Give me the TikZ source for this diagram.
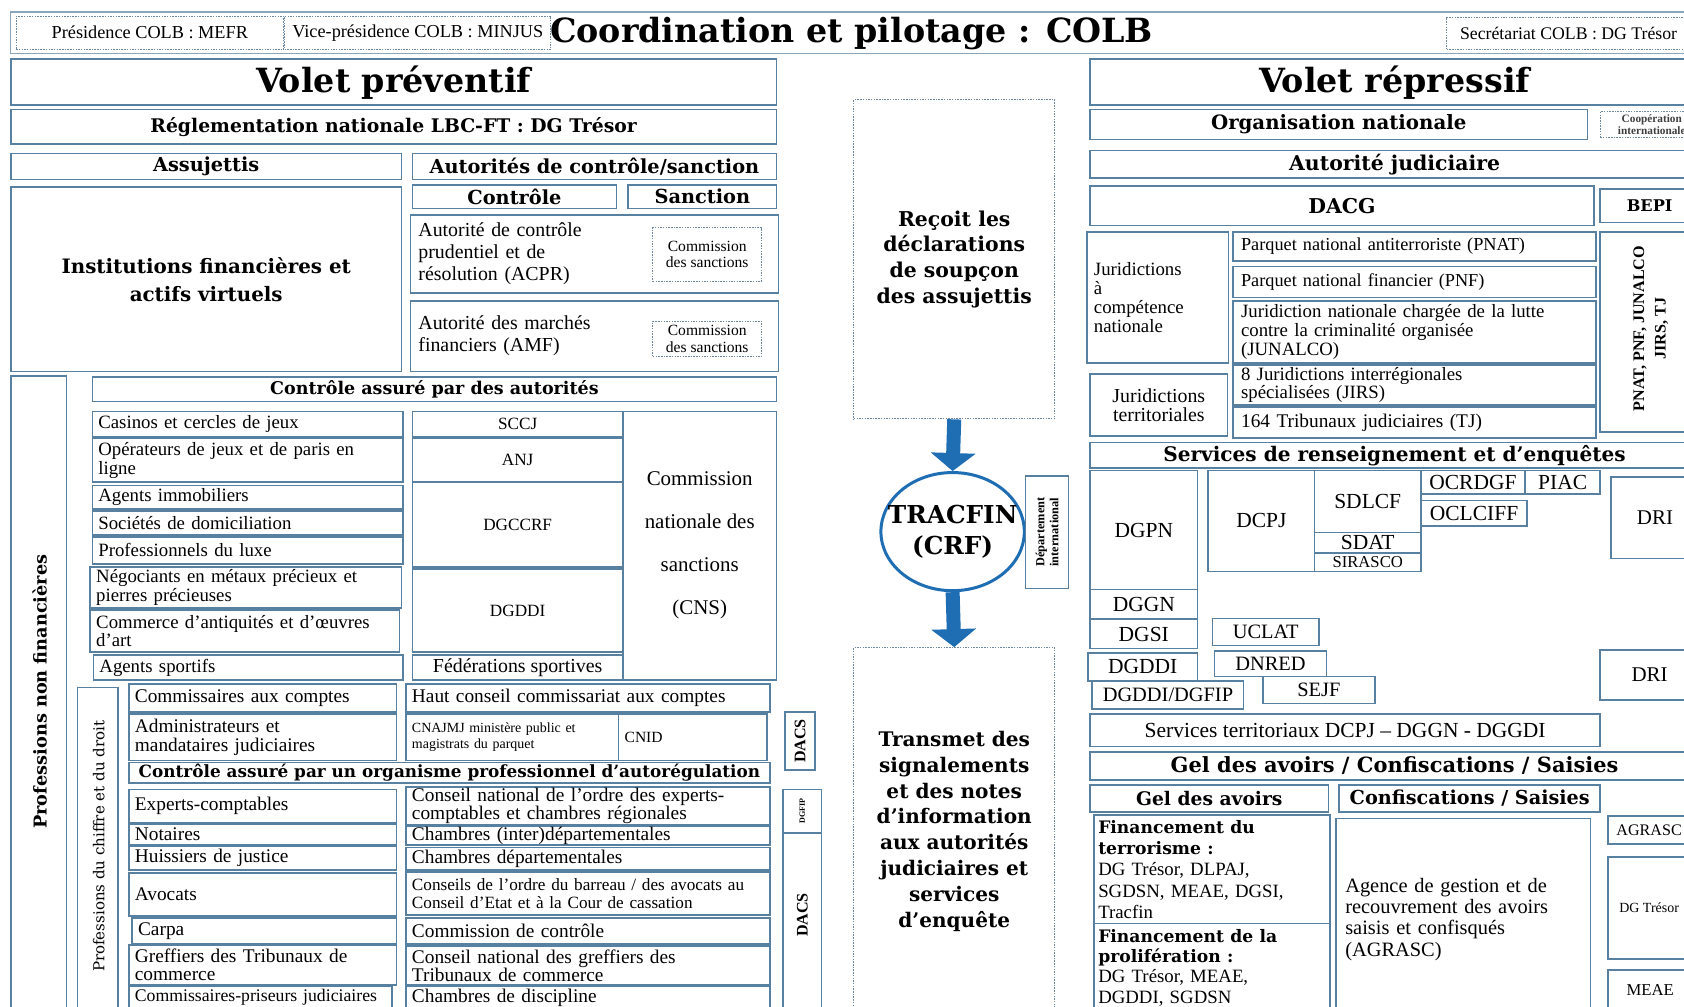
\documentclass[tikz,border=0pt]{standalone}
\usepackage{fontspec}
\setmainfont{Liberation Serif}
\newfontfamily\slab{DejaVu Serif}
\usetikzlibrary{arrows.meta,shapes.geometric}
\definecolor{bc}{RGB}{88,128,160}
\definecolor{dc}{RGB}{110,135,160}
\definecolor{tb}{RGB}{31,110,180}
\newcommand\fs[2]{\fontsize{\dimexpr#1pt*1074/1000\relax}{\dimexpr#2pt*1074/1000\relax}\selectfont}
\newcommand\bx[7][]{\node[box,minimum width={(#5-#3)*1.074pt},minimum height={(#6-#4)*1.074pt},#1] (#2) at ({(#3+#5)/2},{(#4+#6)/2}) {#7};}
\newcommand\lbx[7][]{\node[box,align=left,inner xsep=6pt,text width={(#5-#3)*1.074pt-12pt},minimum height={(#6-#4)*1.074pt},#1] (#2) at ({(#3+#5)/2},{(#4+#6)/2}) {#7};}
\begin{document}
\begin{tikzpicture}[x=1.074pt,y=-1.074pt,
  box/.style={draw=bc,line width=1.6pt,inner sep=0pt,align=center},
  dbox/.style={draw=dc,line width=1pt,dash pattern=on 1.5pt off 1.2pt},
  rt/.style={rotate=90,align=center},
  hd/.style={font=\slab\bfseries\fs{#1}{#1}},
  rg/.style={font=\fs{#1}{#1}},
  flow/.style={tb,line width=14pt,-{Triangle[width=44pt,length=18pt]}}]
\useasboundingbox (0,0) rectangle (1568,937);
\fill[white] (0,0) rectangle (1568,937);
\clip (0,0) rectangle (1568,937);
% ---------- top band
\draw[draw=bc!70,line width=1.4pt] (10,11) rectangle (1590,50);
\bx[dbox,rg=17]{pres}{15}{15}{264}{46}{Présidence COLB : MEFR}
\bx[dbox,rg=17]{vpres}{265}{15}{513}{46}{Vice-présidence COLB : MINJUS}
\node[hd=31] (title) at (793,31) {Coordination et pilotage : COLB};
\bx[dbox,rg=16.5]{secr}{1347}{16}{1574}{46}{Secrétariat COLB : DG Trésor}
% ---------- volet preventif
\bx[hd=31]{vp}{10}{55}{723}{98}{Volet préventif}
\bx[hd=17.5]{regl}{10}{102}{723}{134}{Réglementation nationale LBC-FT : DG Trésor}
\bx[hd=18]{assuj}{10}{143}{374}{167}{Assujettis}
\bx[hd=18]{autcs}{384}{143}{723}{167}{Autorités de contrôle/sanction}
\bx[hd=18]{ctrl}{384}{172}{574}{194}{Contrôle}
\bx[hd=18]{sanc}{585}{172}{723}{194}{Sanction}
\bx[font=\slab\bfseries\fs{18.5}{26}]{ifav}{10}{174}{374}{346}{Institutions financières et\\actifs virtuels}
\lbx[font=\fs{18.5}{20.5},inner xsep=8pt]{acpr}{384}{200}{723}{273}{Autorité de contrôle\\prudentiel et de\\résolution (ACPR)}
\bx[dbox,font=\fs{14.5}{15.5}]{cs1}{608}{212}{709}{262}{Commission\\des sanctions}
\lbx[font=\fs{18.5}{20.5},inner xsep=8pt]{amf}{384}{280}{723}{346}{Autorité des marchés\\financiers (AMF)}
\bx[dbox,font=\fs{14.5}{15.5}]{cs2}{608}{299}{709}{332}{Commission\\des sanctions}
% professions non financieres
\bx{pnfbox}{10}{350}{62}{950}{}
\node[rt,hd=16.5] (pnftxt) at (37,644) {Professions non financières};
\bx[hd=16.3]{cad}{86}{351}{723}{374}{Contrôle assuré par des autorités}
\lbx[rg=17.5]{casinos}{86}{383}{375}{407}{Casinos et cercles de jeux}
\lbx[rg=17.5]{operat}{86}{408}{375}{449}{Opérateurs de jeux et de paris en\\ligne}
\lbx[rg=17.5]{agimmo}{86}{452}{375}{474}{Agents immobiliers}
\lbx[rg=17.5]{domic}{86}{476}{375}{498}{Sociétés de domiciliation}
\lbx[rg=17.5]{luxe}{86}{500}{375}{525}{Professionnels du luxe}
\lbx[rg=17.5]{negoc}{84}{528}{374}{566}{Négociants en métaux précieux et\\pierres précieuses}
\lbx[rg=17.5]{antiq}{84}{568}{372}{607}{Commerce d’antiquités et d’œuvres\\d’art}
\lbx[rg=17.5]{sportifs}{87}{610}{375}{633}{Agents sportifs}
\bx[rg=16]{sccj}{384}{383}{580}{407}{SCCJ}
\bx[rg=16]{anj}{384}{408}{580}{449}{ANJ}
\bx[rg=16]{dgccrf}{384}{449}{580}{528}{DGCCRF}
\bx[rg=16]{dgddiL}{384}{530}{580}{607}{DGDDI}
\bx[rg=18.5]{fedsp}{384}{610}{580}{633}{Fédérations sportives}
\bx[font=\fs{19.5}{40}]{cns}{580}{383}{723}{633}{Commission\\nationale des\\sanctions\\(CNS)}
% professions du chiffre et du droit
\bx{pcdbox}{72}{640}{110}{950}{}
\node[rt,font=\slab\fs{14}{16}] (pcdtxt) at (92,788) {Professions du chiffre et du droit};
\lbx[rg=18]{cac}{120}{637}{369}{663}{Commissaires aux comptes}
\lbx[rg=18]{hcc}{378}{637}{717}{663}{Haut conseil commissariat aux comptes}
\lbx[font=\fs{18}{17.5}]{admin}{120}{665}{369}{708}{Administrateurs et\\mandataires judiciaires}
\lbx[font=\fs{13}{15}]{cnajmj}{378}{665}{576}{708}{CNAJMJ ministère public et\\magistrats du parquet}
\lbx[rg=14.5]{cnid}{576}{665}{714}{708}{CNID}
\bx[hd=15.7]{cpa}{120}{710}{717}{729}{Contrôle assuré par un organisme professionnel d’autorégulation}
\lbx[rg=18]{experts}{120}{735}{369}{766}{Experts-comptables}
\lbx[font=\fs{18}{17}]{cnoec}{378}{733}{717}{768}{Conseil national de l’ordre des experts-\\comptables et chambres régionales}
\lbx[rg=18]{notaires}{120}{767}{369}{787}{Notaires}
\lbx[rg=18]{chinter}{378}{769}{717}{787}{Chambres (inter)départementales}
\lbx[rg=18]{huiss}{120}{788}{369}{810}{Huissiers de justice}
\lbx[rg=18]{chdep}{378}{789}{717}{810}{Chambres départementales}
\lbx[rg=18]{avocats}{120}{813}{369}{853}{Avocats}
\lbx[font=\fs{16}{17}]{conseils}{378}{812}{717}{852}{Conseils de l’ordre du barreau / des avocats au\\Conseil d’Etat et à la Cour de cassation}
\lbx[rg=18]{carpa}{123}{855}{369}{879}{Carpa}
\lbx[rg=18]{comctrl}{378}{855}{717}{879}{Commission de contrôle}
\lbx[font=\fs{18}{17}]{greff}{120}{880}{369}{917}{Greffiers des Tribunaux de\\commerce}
\lbx[font=\fs{18}{17}]{cngtc}{378}{881}{717}{917}{Conseil national des greffiers des\\Tribunaux de commerce}
\lbx[rg=16.5]{cpj}{120}{918}{365}{940}{Commissaires-priseurs judiciaires}
\lbx[rg=18]{chdisc}{378}{918}{717}{940}{Chambres de discipline}
\bx{dacs1}{731}{663}{759}{717}{}
\node[rt,font=\fs{15}{16}\bfseries] (dacs1t) at (dacs1) {DACS};
\bx{dgfip}{729}{735}{765}{775}{}
\node[rt,font=\fs{7.5}{8}\bfseries] (dgfipt) at (dgfip) {DGFIP};
\bx{dacs2}{729}{776}{765}{950}{}
\node[rt,font=\fs{15}{16}\bfseries] (dacs2t) at (747,852) {DACS};
% ---------- TRACFIN
\bx[dbox,font=\slab\bfseries\fs{19}{24}]{recoit}{795}{93}{982}{390}{Reçoit les\\déclarations\\de soupçon\\des assujettis}
\node[ellipse,draw=tb,line width=3pt,minimum width=132*1.074pt,minimum height=110*1.074pt,inner xsep=-14pt,inner ysep=0pt,align=center,font=\slab\bfseries\fs{23}{29}] (tracfin) at (887,495) {TRACFIN\\(CRF)};
\bx{dept}{955}{443}{995}{548}{}
\node[rt,font=\fs{11.5}{13}\bfseries] (deptt) at (dept) {Département\\international};
\bx[dbox,font=\slab\bfseries\fs{18.7}{24}]{transmet}{795}{603}{982}{945}{Transmet des\\signalements\\et des notes\\d’information\\aux autorités\\judiciaires et\\services\\d’enquête}
\draw[flow] (recoit.south) -- (tracfin.north);
\draw[flow] (tracfin.south) -- (transmet.north);
% ---------- volet repressif
\bx[hd=31]{vr}{1015}{55}{1582}{98}{Volet répressif}
\bx[hd=18.4]{orgnat}{1015}{102}{1478}{130}{Organisation nationale}
\bx[dbox,font=\fs{10.5}{11}\bfseries\color{black!75}]{coop}{1490}{104}{1586}{128}{Coopération\\internationale}
\bx[hd=19]{autjud}{1015}{140}{1582}{166}{Autorité judiciaire}
\bx[hd=19]{dacg}{1015}{173}{1484}{210}{DACG}
\bx[hd=15]{bepi}{1490}{176}{1582}{207}{BEPI}
\lbx[font=\fs{17.5}{17.7},inner xsep=7pt]{jcn}{1013}{216}{1143}{338}{Juridictions\\à\\compétence\\nationale}
\lbx[rg=17,inner xsep=8pt]{pnat}{1150}{216}{1484}{243}{Parquet national antiterroriste (PNAT)}
\lbx[rg=17,inner xsep=8pt]{pnfq}{1150}{248}{1484}{277}{Parquet national financier (PNF)}
\lbx[font=\fs{17.5}{17.5},inner xsep=8pt]{junalco}{1150}{280}{1484}{338}{Juridiction nationale chargée de la lutte\\contre la criminalité organisée\\(JUNALCO)}
\lbx[font=\fs{17.5}{17},inner xsep=8pt]{jirs}{1150}{340}{1484}{377}{8 Juridictions interrégionales\\spécialisées (JIRS)}
\lbx[rg=18,inner xsep=8pt]{tj}{1150}{379}{1484}{408}{164 Tribunaux judiciaires (TJ)}
\bx[font=\fs{18.5}{18}]{jt}{1015}{348}{1143}{406}{Juridictions\\territoriales}
\bx{pnatbox}{1490}{216}{1582}{402}{}
\node[rt,font=\fs{15}{20}\bfseries] (pnatt) at (1537,306) {PNAT, PNF, JUNALCO\\JIRS, TJ};
\bx[hd=18.7]{srv}{1015}{412}{1582}{436}{Services de renseignement et d’enquêtes}
\bx[rg=20]{dgpn}{1015}{438}{1115}{549}{DGPN}
\bx[rg=20]{dggn}{1015}{549}{1115}{576}{DGGN}
\bx[rg=20]{dgsi}{1015}{577}{1115}{604}{DGSI}
\bx[rg=20]{dgddiR}{1013}{608}{1115}{634}{DGDDI}
\bx[rg=19]{dgddifip}{1017}{634}{1158}{660}{DGDDI/DGFIP}
\bx[rg=20]{dcpj}{1125}{438}{1224}{532}{DCPJ}
\bx[rg=20]{sdlcf}{1224}{438}{1323}{496}{SDLCF}
\bx[rg=20]{sdat}{1224}{496}{1323}{515}{SDAT}
\bx[rg=15.5]{sirasco}{1224}{515}{1323}{532}{SIRASCO}
\bx[rg=20]{ocrdgf}{1323}{438}{1420}{460}{OCRDGF}
\bx[rg=20]{piac}{1420}{438}{1490}{460}{PIAC}
\bx[rg=20]{oclciff}{1323}{466}{1422}{490}{OCLCIFF}
\bx[rg=19.5]{dri1}{1500}{444}{1582}{520}{DRI}
\bx[rg=19]{uclat}{1129}{576}{1228}{601}{UCLAT}
\bx[rg=19]{dnred}{1131}{606}{1235}{630}{DNRED}
\bx[rg=19]{sejf}{1176}{630}{1280}{655}{SEJF}
\bx[rg=19.5]{dri2}{1490}{605}{1582}{652}{DRI}
\bx[rg=20]{servterr}{1015}{665}{1490}{695}{Services territoriaux DCPJ – DGGN - DGGDI}
\bx[hd=19.5]{gelh}{1015}{700}{1582}{726}{Gel des avoirs / Confiscations / Saisies}
\bx[hd=17.4]{gel}{1015}{731}{1237}{756}{Gel des avoirs}
\bx[hd=17.9]{conf}{1247}{731}{1490}{756}{Confiscations / Saisies}
\lbx[font=\fs{17.5}{19.8},inner xsep=4pt]{ft}{1017}{759}{1240}{860}{{\slab\bfseries\fs{16}{19.8}Financement du}\\{\slab\bfseries\fs{16}{19.8}terrorisme :}\\DG Trésor, DLPAJ,\\SGDSN, MEAE, DGSI,\\Tracfin}
\lbx[font=\fs{17.5}{19},inner xsep=4pt]{fp}{1017}{860}{1240}{942}{{\slab\bfseries\fs{16}{19}Financement de la}\\{\slab\bfseries\fs{16}{19}prolifération :}\\DG Trésor, MEAE,\\DGDDI, SGDSN}
\lbx[font=\fs{19}{20},inner xsep=9pt]{agence}{1247}{762}{1478}{950}{Agence de gestion et de\\recouvrement des avoirs\\saisis et confisqués\\(AGRASC)}
\bx[rg=15]{agrasc}{1497}{760}{1574}{786}{AGRASC}
\bx[rg=13]{dgt}{1497}{798}{1574}{893}{DG Trésor}
\bx[rg=15.5]{meae}{1497}{903}{1576}{940}{MEAE}
\end{tikzpicture}
\end{document}
